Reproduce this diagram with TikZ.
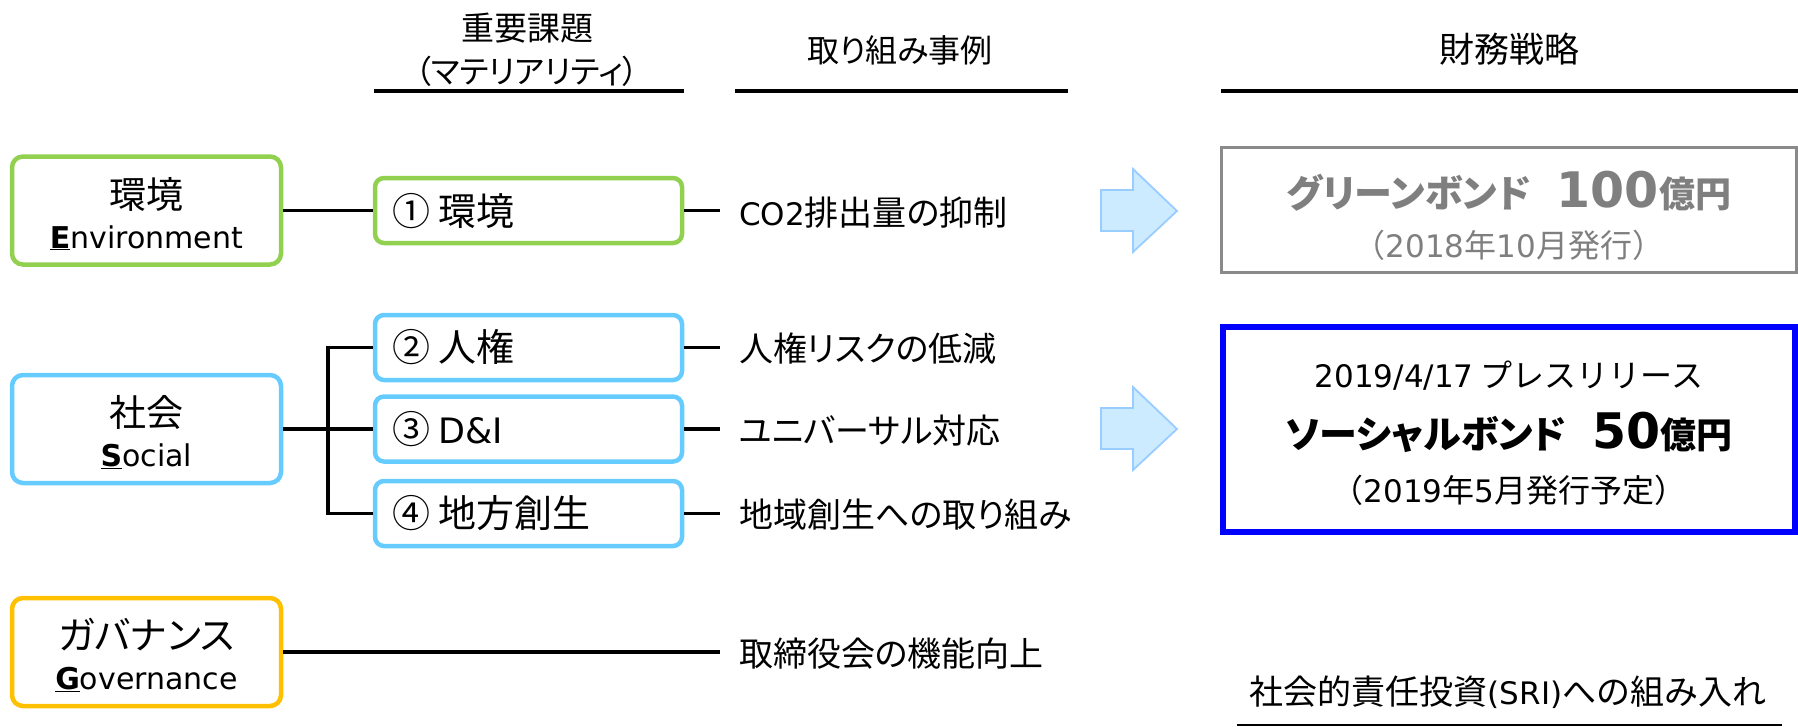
\documentclass[tikz,border=0pt]{standalone}
\usepackage{fontspec}
\setmainfont{Noto Sans CJK JP}
\newfontfamily\pfont{Noto Sans CJK JP}[RawFeature=+palt]
\newfontfamily\lat{DejaVu Sans}
\newcommand\myfs[1]{\fontsize{#1}{#1}\selectfont}
\newcommand\xlat[2]{{\lat\fontsize{#1}{#1}\selectfont #2}}
\definecolor{envgreen}{HTML}{92D050}
\definecolor{socblue}{HTML}{66CCFF}
\definecolor{govgold}{HTML}{FFC000}
\definecolor{graybox}{HTML}{8A8A8A}
\definecolor{graytext}{HTML}{7F7F7F}
\definecolor{bondblue}{HTML}{0000FF}
\definecolor{arrfill}{HTML}{CCEBFF}
\definecolor{arrline}{HTML}{99CCFF}
\tikzset{
  catbox/.style={draw, line width=4.5pt, rounded corners=11pt, minimum width=269pt, minimum height=108pt, inner sep=0pt, fill=white},
  matbox/.style={draw=socblue, line width=4.5pt, rounded corners=9pt, minimum width=307pt, minimum height=65pt, inner sep=0pt, fill=white},
  txt/.style={inner sep=0pt, anchor=base},
  txtw/.style={inner sep=0pt, anchor=base west, font=\pfont},
  conn/.style={draw=black, line width=3.5pt},
  hline/.style={draw=black, line width=3.2pt},
  bigarrow/.style={fill=arrfill, draw=arrline, line width=1.8pt, line join=miter},
}
\begin{document}
\begin{tikzpicture}[x=1pt,y=-1pt]
\useasboundingbox (0,0) rectangle (1798,726);

% headers
\node[txt] (h1a) at (527,40) {\myfs{33}重要課題};
\node[txt] (h1b) at (527,83) {\pfont\myfs{32}（マテリアリティ）};
\node[txt] (h2) at (900,62) {\pfont\myfs{32}取り組み事例};
\node[txt] (h3) at (1509,62) {\myfs{35}財務戦略};
\draw[hline] (374,91) -- (684,91);
\draw[hline] (735,91) -- (1068,91);
\draw[hline] (1221,91) -- (1798,91);

% category boxes
\node[catbox, draw=envgreen] (env) at (146.5,210.5) {};
\node[txt] (envj) at (146.5,208) {\myfs{37}環境};
\node[txt] (envl) at (146.5,248) {\xlat{30}{\underline{\textbf{E}}nvironment}};

\node[catbox, draw=socblue] (soc) at (146.5,429) {};
\node[txt] (socj) at (146.5,426) {\myfs{37}社会};
\node[txt] (socl) at (146.5,466) {\xlat{30}{\underline{\textbf{S}}ocial}};

\node[catbox, draw=govgold] (gov) at (146.5,652) {};
\node[txt] (govj) at (146.5,649) {\pfont\myfs{38}ガバナンス};
\node[txt] (govl) at (146.5,689) {\xlat{30}{\underline{\textbf{G}}overnance}};

% materiality boxes
\node[matbox, draw=envgreen] (m1) at (528.5,210.5) {};
\node[matbox] (m2) at (528.5,347.5) {};
\node[matbox] (m3) at (528.5,429) {};
\node[matbox] (m4) at (528.5,513.5) {};
\node[txtw] (m1t) at (392,225) {\myfs{38}① 環境};
\node[txtw] (m2t) at (392,361.5) {\myfs{38}② 人権};
\node[txtw] (m3t) at (392,443) {\myfs{38}③ \xlat{35}{D\&I}};
\node[txtw] (m4t) at (392,527.5) {\myfs{38}④ 地方創生};

% example texts
\node[txtw] (e1) at (739,225) {\myfs{34}\xlat{31}{CO2}排出量の抑制};
\node[txtw] (e2) at (739,361.5) {\myfs{34}人権リスクの低減};
\node[txtw] (e3) at (739,443) {\myfs{34}ユニバーサル対応};
\node[txtw] (e4) at (739,527.5) {\myfs{34}地域創生への取り組み};
\node[txtw] (e5) at (739,666) {\myfs{34}取締役会の機能向上};
\coordinate (c1) at (720,210.5);
\coordinate (c2) at (720,347.5);
\coordinate (c3) at (720,429);
\coordinate (c4) at (720,513.5);
\coordinate (c5) at (720,652);

% connectors
\draw[conn] (env.east) -- (m1.west);
\draw[conn] (soc.east) -- (m3.west);
\draw[conn] (m2.west) -- ++(-45,0) |- (m4.west);
\draw[conn] (m1.east) -- (c1);
\draw[conn] (m2.east) -- (c2);
\draw[conn] (m3.east) -- (c3);
\draw[conn] (m4.east) -- (c4);
\draw[conn] (gov.east) -- (c5);

% block arrows
\draw[bigarrow] (1101,190) -- (1133,190) -- (1133,169) -- (1177,211) -- (1133,252) -- (1133,231) -- (1101,231) -- cycle;
\draw[bigarrow] (1101,408) -- (1133,408) -- (1133,387) -- (1177,429) -- (1133,470) -- (1133,449) -- (1101,449) -- cycle;

% green bond box
\node[draw=graybox, line width=3.2pt, minimum width=575pt, minimum height=125pt, inner sep=0pt] (gb) at (1509,210) {};
\node[txt, text=graytext] (gb1) at (1509,207) {\pfont\myfs{38}\bfseries グリーンボンド\hspace{26pt}\xlat{49}{\bfseries 100}\myfs{36}億円};
\node[txt, text=graytext] (gb2) at (1509,257) {\myfs{32}（\xlat{31}{2018}年\xlat{31}{10}月発行）};

% social bond box
\node[draw=bondblue, line width=6pt, minimum width=572pt, minimum height=205pt, inner sep=0pt] (sb) at (1509,429.5) {};
\node[txt] (sb1) at (1509,387) {\myfs{32}\xlat{31}{2019/4/17} プレスリリース};
\node[txt] (sb2) at (1509,448) {\pfont\myfs{38}\bfseries ソーシャルボンド\hspace{26pt}\xlat{49}{\bfseries 50}\myfs{36}億円};
\node[txt] (sb3) at (1509,502) {\myfs{32}（\xlat{31}{2019}年\xlat{31}{5}月発行予定）};

% SRI
\node[txt] (sri) at (1508,704) {\myfs{34}社会的責任投資\xlat{31}{(SRI)}への組み入れ};
\draw[draw=black, line width=2pt] (1237,725) -- (1782,725);
\end{tikzpicture}
\end{document}
